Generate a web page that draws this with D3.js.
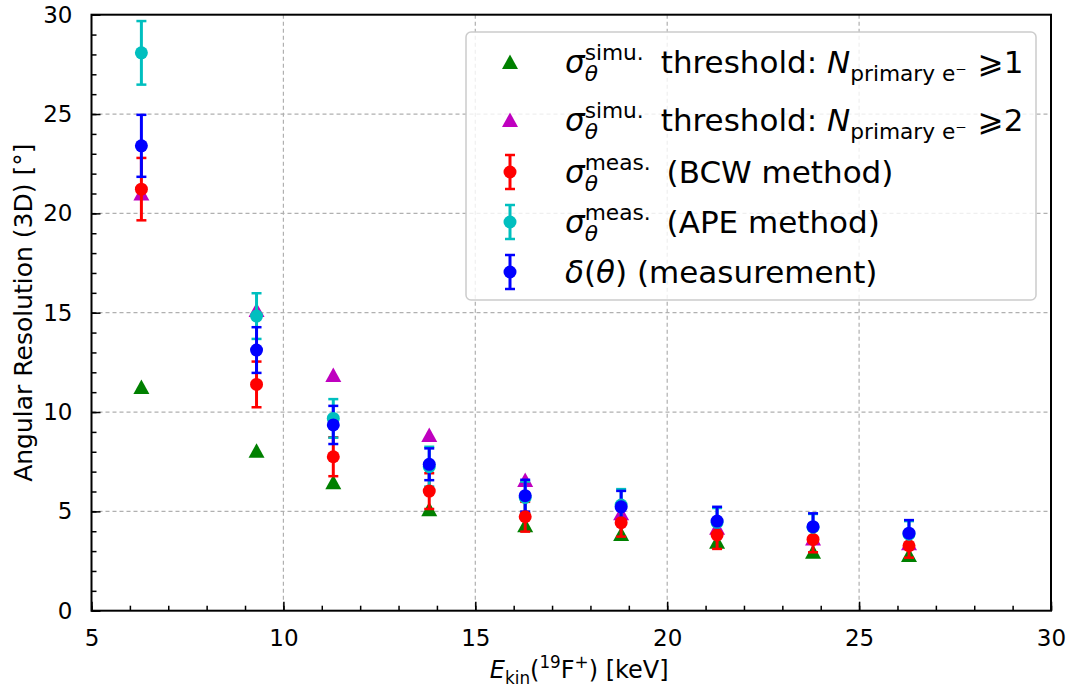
<!DOCTYPE html>
<html>
<head>
<meta charset="utf-8">
<script src="https://cdn.jsdelivr.net/npm/d3@7"></script>
<style>
  body { margin: 0; background: #fff; }
  svg { display: block; font-family: "DejaVu Sans", sans-serif; }
  text { white-space: pre; }
</style>
</head>
<body>
<div id="chart"></div>
<script>
// kinetic energy of 19F+ ions [keV]
const energies = [6.3, 9.3, 11.3, 13.8, 16.3, 18.8, 21.3, 23.8, 26.3];
// simulated angular resolution, two thresholds
const simN1 = [11.26, 8.05, 6.46, 5.11, 4.30, 3.86, 3.47, 2.97, 2.80];
const simN2 = [21.0, 15.13, 11.86, 8.84, 6.58, 4.90, 4.18, 3.64, 3.39];
// measured, BCW method
const bcw = [21.22, 11.39, 7.75, 6.02, 4.73, 4.43, 3.81, 3.59, 3.27];
const bcwErr = [1.57, 1.15, 0.98, 0.90, 0.75, 0.70, 0.70, 0.65, 0.60];
// measured, APE method
const ape = [28.08, 14.83, 9.68, 7.25, 5.70, 5.32, 4.45, 4.20, 3.85];
const apeErr = [1.60, 1.15, 0.97, 1.00, 0.80, 0.80, 0.72, 0.67, 0.66];
// delta(theta) measurement
const delta = [23.40, 13.12, 9.35, 7.37, 5.79, 5.23, 4.51, 4.23, 3.90];
const deltaErr = [1.56, 1.15, 0.96, 0.80, 0.80, 0.80, 0.72, 0.67, 0.66];

const xTicks = [5, 10, 15, 20, 25, 30];
const yTicks = [0, 5, 10, 15, 20, 25, 30];

const W = 1077, H = 688;
const margin = { top: 14.7, right: 26, bottom: 77.3, left: 91.5 };
const width = W - margin.left - margin.right;
const height = H - margin.top - margin.bottom;

const svg = d3.select("#chart").append("svg")
    .attr("width", W).attr("height", H);
const chart = svg.append("g")
    .attr("transform", `translate(${margin.left},${margin.top})`);

const x = d3.scaleLinear().domain([5, 30]).range([0, width]);
const y = d3.scaleLinear().domain([0, 30]).range([height, 0]);

// grid
chart.append("g").selectAll("line")
    .data(xTicks.slice(1, -1)).join("line")
    .attr("x1", d => x(d)).attr("x2", d => x(d))
    .attr("y1", 0).attr("y2", height)
    .attr("stroke", "#b0b0b0").attr("stroke-width", 1.2).attr("stroke-dasharray", "4,3");
chart.append("g").selectAll("line")
    .data(yTicks.slice(1, -1)).join("line")
    .attr("y1", d => y(d)).attr("y2", d => y(d))
    .attr("x1", 0).attr("x2", width)
    .attr("stroke", "#b0b0b0").attr("stroke-width", 1.2).attr("stroke-dasharray", "4,3");

// axes with inward ticks
const xAxis = chart.append("g").attr("transform", `translate(0,${height})`)
    .call(d3.axisBottom(x).tickValues(d3.range(5, 31, 1)).tickSize(-5).tickFormat(""));
xAxis.call(g => g.append("g").call(d3.axisBottom(x).tickValues(xTicks).tickSize(-9).tickPadding(19)));
const yAxis = chart.append("g")
    .call(d3.axisLeft(y).tickValues(d3.range(0, 31, 1)).tickSize(-5).tickFormat(""));
yAxis.call(g => g.append("g").call(d3.axisLeft(y).tickValues(yTicks).tickSize(-9).tickPadding(19)));
chart.selectAll(".domain").remove();
chart.selectAll(".tick line").attr("stroke", "#000").attr("stroke-width", 1.5);
chart.selectAll(".tick text").attr("fill", "#000").style("font-size", "23px")
    .style("font-family", "'DejaVu Sans', sans-serif");

// frame
chart.append("rect").attr("width", width).attr("height", height)
    .attr("fill", "none").attr("stroke", "#000").attr("stroke-width", 2);

const tri = "M0,-7.5L8,7L-8,7Z";

function triangles(vals, color) {
    chart.append("g").selectAll("path")
        .data(energies.map((e, i) => [e, vals[i]])).join("path")
        .attr("d", tri)
        .attr("transform", d => `translate(${x(d[0])},${y(d[1])})`)
        .attr("fill", color);
}

function errorBars(vals, errs, color) {
    const g = chart.append("g").attr("stroke", color);
    const d = energies.map((e, i) => ({ e: e, v: vals[i], s: errs[i] }));
    g.selectAll("line.bar").data(d).join("line").attr("class", "bar")
        .attr("x1", p => x(p.e)).attr("x2", p => x(p.e))
        .attr("y1", p => y(p.v - p.s)).attr("y2", p => y(p.v + p.s))
        .attr("stroke-width", 3);
    g.selectAll("line.capT").data(d).join("line").attr("class", "capT")
        .attr("x1", p => x(p.e) - 5).attr("x2", p => x(p.e) + 5)
        .attr("y1", p => y(p.v + p.s)).attr("y2", p => y(p.v + p.s))
        .attr("stroke-width", 2.5);
    g.selectAll("line.capB").data(d).join("line").attr("class", "capB")
        .attr("x1", p => x(p.e) - 5).attr("x2", p => x(p.e) + 5)
        .attr("y1", p => y(p.v - p.s)).attr("y2", p => y(p.v - p.s))
        .attr("stroke-width", 2.5);
}

function dots(vals, color) {
    chart.append("g").selectAll("circle")
        .data(energies.map((e, i) => [e, vals[i]])).join("circle")
        .attr("cx", d => x(d[0])).attr("cy", d => y(d[1]))
        .attr("r", 6.5).attr("fill", color);
}

const cG = "#008000", cM = "#bf00bf", cR = "#ff0000", cC = "#00bfbf", cB = "#0000ff";

triangles(simN1, cG);
triangles(simN2, cM);
errorBars(bcw, bcwErr, cR);
errorBars(ape, apeErr, cC);
errorBars(delta, deltaErr, cB);
dots(bcw, cR);
dots(ape, cC);
dots(delta, cB);

// small mathtext-like layout: pieces with optional sub/sup and a gap before
function mathText(g, x0, y0, pieces, size) {
    let cx = x0;
    const small = size * 0.7;
    pieces.forEach(p => {
        cx += p.gap || 0;
        const t = g.append("text").attr("x", cx).attr("y", y0)
            .style("font-size", size + "px")
            .style("font-style", p.italic ? "italic" : "normal")
            .text(p.t);
        let w = t.node().getComputedTextLength();
        let extra = 0;
        if (p.sub) {
            const s = g.append("text").attr("x", cx + w).attr("y", y0 + size * 0.25)
                .style("font-size", small + "px")
                .style("font-style", p.subItalic ? "italic" : "normal")
                .text(p.sub);
            extra = Math.max(extra, s.node().getComputedTextLength());
        }
        if (p.sup) {
            const s = g.append("text").attr("x", cx + w).attr("y", y0 - size * 0.42)
                .style("font-size", small + "px")
                .text(p.sup);
            extra = Math.max(extra, s.node().getComputedTextLength());
        }
        cx += w + extra;
    });
    return cx - x0;
}

// legend
const leg = svg.append("g");
leg.append("rect")
    .attr("x", 466).attr("y", 32).attr("width", 570).attr("height", 268)
    .attr("rx", 5).attr("fill", "rgba(255,255,255,0.8)")
    .attr("stroke", "#cccccc").attr("stroke-width", 1.5);

const legFont = 31;
const rows = [
    { type: "tri", color: cG, cy: 62,
      pieces: [{ t: "σ", italic: true, sub: "θ", subItalic: true, sup: "simu." },
               { t: "threshold: ", gap: 17 }, { t: "N", italic: true, sub: "primary e⁻" },
               { t: "⩾", gap: 11 }, { t: "1" }] },
    { type: "tri", color: cM, cy: 120,
      pieces: [{ t: "σ", italic: true, sub: "θ", subItalic: true, sup: "simu." },
               { t: "threshold: ", gap: 17 }, { t: "N", italic: true, sub: "primary e⁻" },
               { t: "⩾", gap: 11 }, { t: "2" }] },
    { type: "err", color: cR, cy: 172,
      pieces: [{ t: "σ", italic: true, sub: "θ", subItalic: true, sup: "meas." }, { t: "(BCW method)", gap: 16 }] },
    { type: "err", color: cC, cy: 222,
      pieces: [{ t: "σ", italic: true, sub: "θ", subItalic: true, sup: "meas." }, { t: "(APE method)", gap: 16 }] },
    { type: "err", color: cB, cy: 272,
      pieces: [{ t: "δ", italic: true }, { t: "(" }, { t: "θ", italic: true }, { t: ") (measurement)" }] }
];
rows.forEach(r => {
    const mx = 510;
    if (r.type === "tri") {
        leg.append("path").attr("d", tri)
            .attr("transform", `translate(${mx},${r.cy})`).attr("fill", r.color);
    } else {
        const gg = leg.append("g").attr("stroke", r.color);
        gg.append("line").attr("x1", mx).attr("x2", mx).attr("y1", r.cy - 17).attr("y2", r.cy + 17).attr("stroke-width", 3);
        gg.append("line").attr("x1", mx - 5).attr("x2", mx + 5).attr("y1", r.cy - 17).attr("y2", r.cy - 17).attr("stroke-width", 2.5);
        gg.append("line").attr("x1", mx - 5).attr("x2", mx + 5).attr("y1", r.cy + 17).attr("y2", r.cy + 17).attr("stroke-width", 2.5);
        leg.append("circle").attr("cx", mx).attr("cy", r.cy).attr("r", 6.5).attr("fill", r.color);
    }
    mathText(leg.append("g"), 565, r.cy + 11, r.pieces, legFont);
});

// axis labels
const xl = svg.append("g");
const xlw = mathText(xl, 0, 0, [
    { t: "E", italic: true, sub: "kin" }, { t: "(", sup: "19" }, { t: "F", sup: "+" }, { t: ") [keV]" }
], 24);
xl.attr("transform", `translate(${margin.left + width / 2 - xlw / 2 + 8},678)`);

svg.append("text")
    .attr("transform", `translate(32,${margin.top + height / 2}) rotate(-90)`)
    .attr("text-anchor", "middle")
    .style("font-size", "25px")
    .text("Angular Resolution (3D) [°]");
</script>
</body>
</html>
